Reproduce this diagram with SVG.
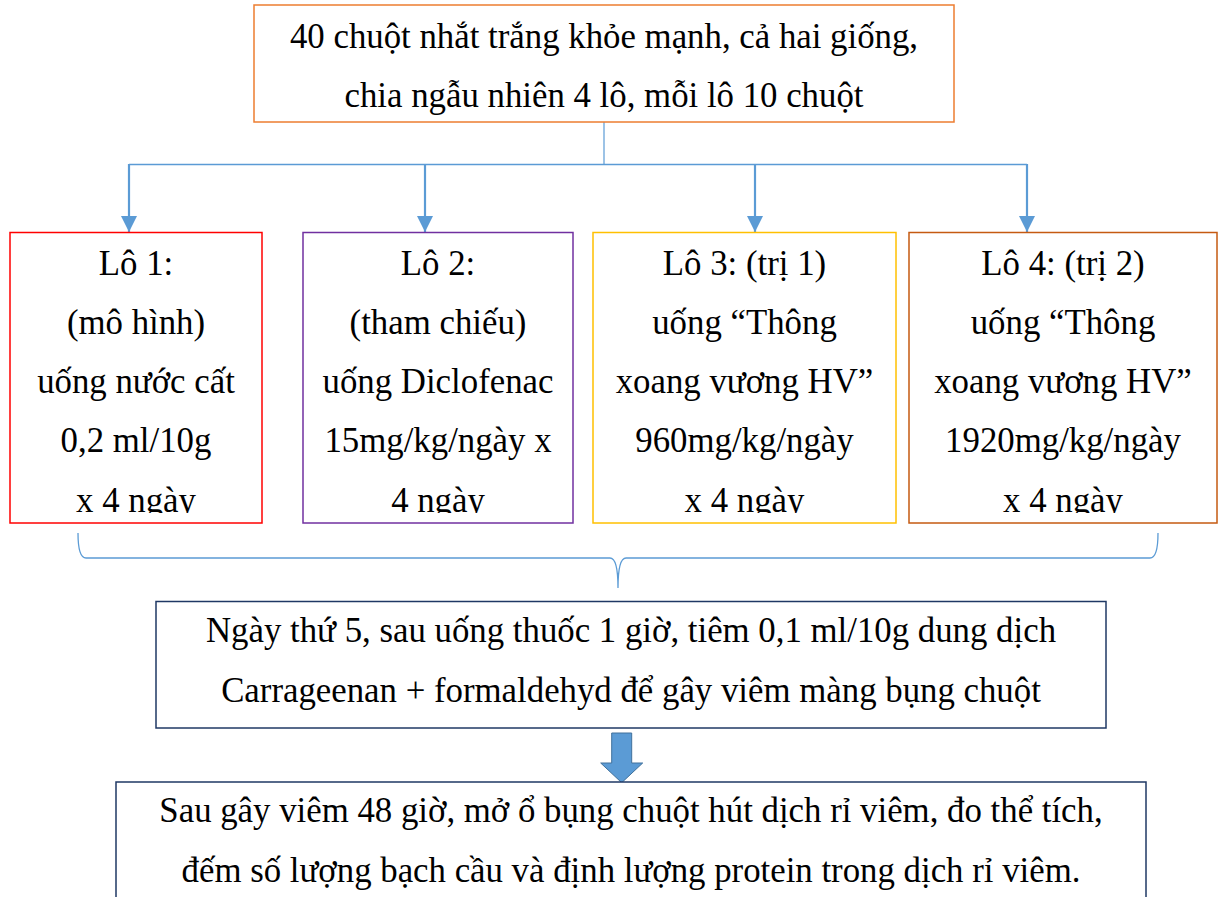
<svg xmlns="http://www.w3.org/2000/svg" width="1219" height="897" viewBox="0 0 1219 897">
<style>
text{font-family:"Liberation Serif","Times New Roman",serif;font-size:34.8px;fill:#000;text-anchor:middle}
.box{fill:#fff;stroke-width:1.5}
.conn{fill:none;stroke:#5B9BD5}
</style>
<defs>
<marker id="ah" viewBox="0 0 10 10" refX="10" refY="5" markerWidth="16" markerHeight="17" markerUnits="userSpaceOnUse" orient="auto">
<path d="M0,0 L10,5 L0,10 z" fill="#5B9BD5"/>
</marker>
<clipPath id="c1"><rect x="10" y="232" width="252" height="281"/></clipPath>
<clipPath id="c2"><rect x="303" y="232" width="270" height="281"/></clipPath>
<clipPath id="c3"><rect x="593" y="232" width="303" height="281"/></clipPath>
<clipPath id="c4"><rect x="909" y="232" width="308" height="281"/></clipPath>
</defs>
<rect width="1219" height="897" fill="#fff"/>
<g id="connectors">
<line class="conn" x1="604" y1="122" x2="604" y2="164.5" stroke-width="1.2"/>
<line class="conn" x1="129" y1="164.5" x2="1027" y2="164.5" stroke-width="1.5"/>
<line class="conn" x1="129" y1="164" x2="129" y2="232" stroke-width="2.2" marker-end="url(#ah)"/>
<line class="conn" x1="425" y1="164" x2="425" y2="232" stroke-width="2.2" marker-end="url(#ah)"/>
<line class="conn" x1="755" y1="164" x2="755" y2="232" stroke-width="2.2" marker-end="url(#ah)"/>
<line class="conn" x1="1027" y1="164" x2="1027" y2="232" stroke-width="2.2" marker-end="url(#ah)"/>
<path class="conn" stroke-width="1.3" d="M78,533 Q78,558 86,558 H610 Q618,558 618,588 Q618,558 626,558 H1150 Q1158,558 1158,533"/>
<path d="M611.7,733 H631.7 V763 H642.7 L621.7,782.7 L600.7,763 H611.7 Z" fill="#5B9BD5" stroke="#41719C" stroke-width="1"/>
</g>
<g id="n0">
<rect class="box" x="254" y="5" width="700" height="117" stroke="#ED7D31"/>
<text x="604" y="48">40 chuột nhắt trắng khỏe mạnh, cả hai giống,</text>
<text x="604" y="107">chia ngẫu nhiên 4 lô, mỗi lô 10 chuột</text>
</g>
<g id="n1">
<rect class="box" x="10" y="232.5" width="252" height="290.5" stroke="#FF0000"/>
<g clip-path="url(#c1)">
<text x="136" y="275">Lô 1:</text>
<text x="136" y="334">(mô hình)</text>
<text x="136" y="393">uống nước cất</text>
<text x="136" y="452">0,2 ml/10g</text>
<text x="136" y="512">x 4 ngày</text>
</g>
</g>
<g id="n2">
<rect class="box" x="303" y="232.5" width="270" height="290.5" stroke="#7030A0"/>
<g clip-path="url(#c2)">
<text x="438" y="275">Lô 2:</text>
<text x="438" y="334">(tham chiếu)</text>
<text x="438" y="393">uống Diclofenac</text>
<text x="438" y="452">15mg/kg/ngày x</text>
<text x="438" y="512">4 ngày</text>
</g>
</g>
<g id="n3">
<rect class="box" x="593" y="232.5" width="303" height="290.5" stroke="#FFC000"/>
<g clip-path="url(#c3)">
<text x="744.5" y="275">Lô 3: (trị 1)</text>
<text x="744.5" y="334">uống “Thông</text>
<text x="744.5" y="393">xoang vương HV”</text>
<text x="744.5" y="452">960mg/kg/ngày</text>
<text x="744.5" y="512">x 4 ngày</text>
</g>
</g>
<g id="n4">
<rect class="box" x="909" y="232.5" width="308" height="290.5" stroke="#C55A11"/>
<g clip-path="url(#c4)">
<text x="1063" y="275">Lô 4: (trị 2)</text>
<text x="1063" y="334">uống “Thông</text>
<text x="1063" y="393">xoang vương HV”</text>
<text x="1063" y="452">1920mg/kg/ngày</text>
<text x="1063" y="512">x 4 ngày</text>
</g>
</g>
<g id="n5">
<rect class="box" x="156" y="601.5" width="950" height="126.5" stroke="#1F3864"/>
<text x="631" y="642">Ngày thứ 5, sau uống thuốc 1 giờ, tiêm 0,1 ml/10g dung dịch</text>
<text x="631" y="702">Carrageenan + formaldehyd để gây viêm màng bụng chuột</text>
</g>
<g id="n6">
<rect class="box" x="116" y="782" width="1030" height="130" stroke="#1F3864"/>
<text x="631" y="822">Sau gây viêm 48 giờ, mở ổ bụng chuột hút dịch rỉ viêm, đo thể tích,</text>
<text x="631" y="882">đếm số lượng bạch cầu và định lượng protein trong dịch rỉ viêm.</text>
</g>
</svg>
